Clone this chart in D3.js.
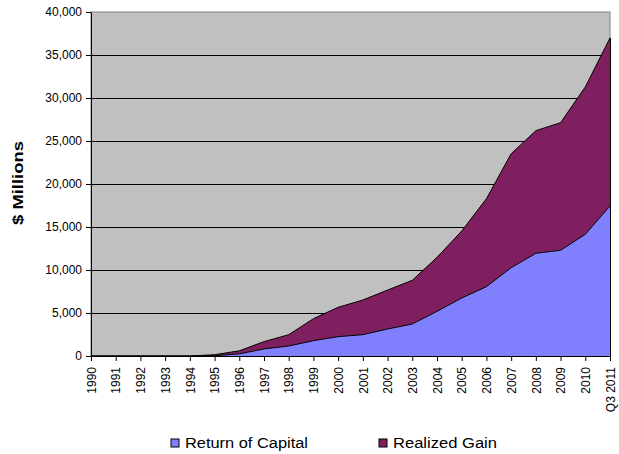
<!DOCTYPE html>
<html>
<head>
<meta charset="utf-8">
<script src="https://cdn.jsdelivr.net/npm/d3@7"></script>
<style>
  body { margin: 0; background: #fff; }
  text { font-family: "Liberation Sans", Arial, sans-serif; fill: #000; }
</style>
</head>
<body>
<script>
// chart data
var years = ["1990", "1991", "1992", "1993", "1994", "1995", "1996", "1997", "1998", "1999", "2000",
	"2001", "2002", "2003", "2004", "2005", "2006", "2007", "2008", "2009", "2010", "Q3 2011"];
var returnOfCapital = [0, 0, 0, 0, 0, 30, 250, 820, 1160, 1780, 2250,
	2480, 3140, 3720, 5190, 6740, 8060, 10270, 11940, 12290, 14150, 17440];
var realizedGain = [0, 0, 0, 0, 0, 120, 350, 850, 1320, 2560, 3410,
	4030, 4530, 5080, 6280, 7790, 10230, 13250, 14260, 14840, 17130, 19540];
var seriesNames = ["Return of Capital", "Realized Gain"];
var yTicks = [0, 5000, 10000, 15000, 20000, 25000, 30000, 35000, 40000];

var width = 619,
	height = 454,
	margin = { top: 12, right: 9, bottom: 98, left: 91 };

var colors = ["#8080ff", "#7f1f5f"];

var svg = d3.select("body")
	.append("svg")
	.attr("width", width)
	.attr("height", height);

var plotW = width - margin.left - margin.right,
	plotH = height - margin.top - margin.bottom;

var g = svg.append("g")
	.attr("transform", "translate(" + margin.left + "," + margin.top + ")");

var x = d3.scalePoint()
	.domain(years)
	.range([0, plotW]);

var y = d3.scaleLinear()
	.domain([0, 40000])
	.range([plotH, 0]);

// stack the two series
var rows = years.map(function(d, i) {
	return { year: d, roc: returnOfCapital[i], gain: realizedGain[i] };
});
var stacked = d3.stack().keys(["roc", "gain"])(rows);

// plot background
g.append("rect")
	.attr("width", plotW)
	.attr("height", plotH)
	.attr("fill", "#c0c0c0")
	.attr("stroke", "#808080");

// gridlines
g.selectAll(".grid")
	.data(yTicks.slice(1, -1))
	.enter().append("line")
	.attr("class", "grid")
	.attr("x1", 0)
	.attr("x2", plotW)
	.attr("y1", function(d) { return Math.round(y(d)) + 0.5; })
	.attr("y2", function(d) { return Math.round(y(d)) + 0.5; })
	.attr("stroke", "#000")
	.attr("stroke-width", 1);

var area = d3.area()
	.x(function(d) { return x(d.data.year); })
	.y0(function(d) { return y(d[0]); })
	.y1(function(d) { return y(d[1]); });

var topLine = d3.line()
	.x(function(d) { return x(d.data.year); })
	.y(function(d) { return y(d[1]); });

g.selectAll(".layer")
	.data(stacked)
	.enter().append("path")
	.attr("class", "layer")
	.attr("d", area)
	.attr("fill", function(d, i) { return colors[i]; });

g.selectAll(".edge")
	.data(stacked)
	.enter().append("path")
	.attr("class", "edge")
	.attr("d", topLine)
	.attr("fill", "none")
	.attr("stroke", "#000")
	.attr("stroke-width", 1);

// right edge of the areas
g.append("line")
	.attr("x1", plotW + 0.5).attr("x2", plotW + 0.5)
	.attr("y1", y(returnOfCapital[21] + realizedGain[21]))
	.attr("y2", plotH)
	.attr("stroke", "#000");

// y axis
var yAxis = g.append("g")
	.call(d3.axisLeft(y)
		.tickValues(yTicks)
		.tickSizeInner(5)
		.tickSizeOuter(0)
		.tickPadding(4)
		.tickFormat(d3.format(",")));
yAxis.select(".domain").attr("stroke", "#000");
yAxis.selectAll("text")
	.attr("font-size", "12px")
	.attr("font-family", "Liberation Sans, Arial, sans-serif");

// x axis
var xAxis = g.append("g")
	.attr("transform", "translate(0," + plotH + ")")
	.call(d3.axisBottom(x)
		.tickSizeInner(5)
		.tickSizeOuter(0));
xAxis.select(".domain").attr("stroke", "#000");
xAxis.selectAll("text")
	.attr("font-size", "12px")
	.attr("font-family", "Liberation Sans, Arial, sans-serif")
	.attr("transform", "rotate(-90)")
	.attr("text-anchor", "end")
	.attr("x", -11)
	.attr("y", 0)
	.attr("dy", "0.35em");

// axis title (stretched a bit, like the original)
svg.append("text")
	.attr("transform", "translate(23,183) rotate(-90)")
	.attr("text-anchor", "middle")
	.attr("font-size", "15px")
	.attr("font-weight", "bold")
	.attr("textLength", 84)
	.attr("lengthAdjust", "spacingAndGlyphs")
	.text("$ Millions");

// legend
var legendX = [171, 379];
var legendLen = [123, 104];
var legend = svg.selectAll(".legend")
	.data(seriesNames)
	.enter().append("g")
	.attr("class", "legend")
	.attr("transform", function(d, i) { return "translate(" + legendX[i] + ",439)"; });

legend.append("rect")
	.attr("width", 8)
	.attr("height", 8)
	.attr("fill", function(d, i) { return colors[i]; })
	.attr("stroke", "#000");

legend.append("text")
	.attr("x", 14)
	.attr("y", 4)
	.attr("dy", "0.35em")
	.attr("font-size", "14px")
	.attr("textLength", function(d, i) { return legendLen[i]; })
	.attr("lengthAdjust", "spacingAndGlyphs")
	.text(function(d) { return d; });
</script>
</body>
</html>
